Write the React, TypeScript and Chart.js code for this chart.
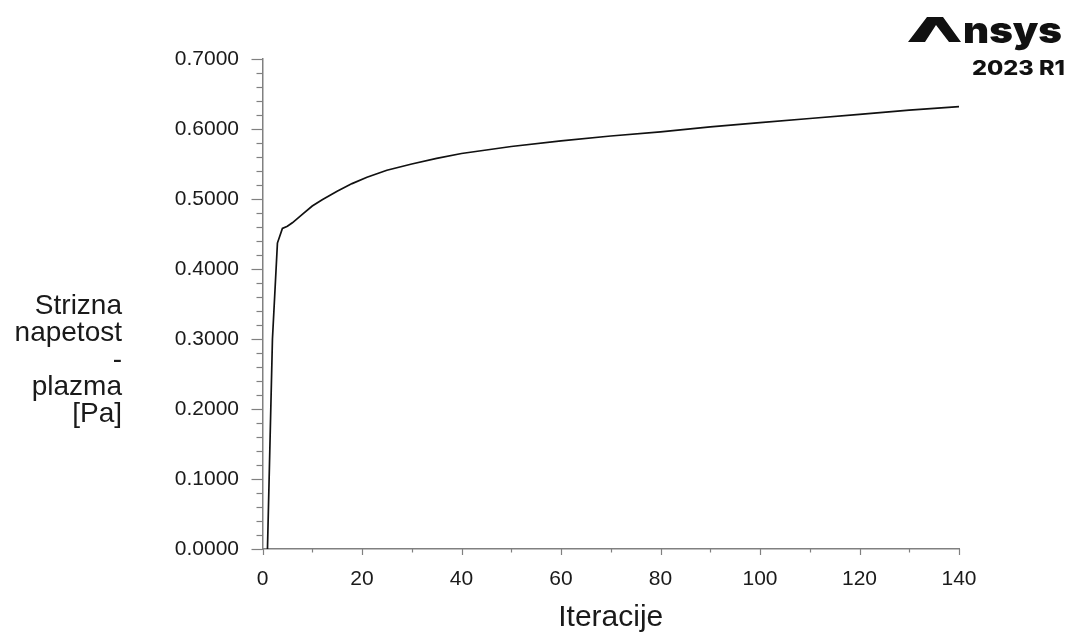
import React, { useEffect, useRef } from "react";
import { Chart, registerables } from "chart.js";

Chart.register(...registerables);

const iterations = [1, 2, 3, 4, 5, 6, 8, 10, 12, 15, 18, 21, 25, 30, 35, 40, 45, 50, 60, 70, 80, 90, 100, 110, 120, 130, 140];
const shearStress = [0.0, 0.3, 0.437, 0.458, 0.461, 0.466, 0.478, 0.49, 0.499, 0.511, 0.522, 0.531, 0.541, 0.55, 0.558, 0.565, 0.57, 0.575, 0.583, 0.59, 0.596, 0.603, 0.609, 0.615, 0.621, 0.627, 0.632];
const xTitle = "Iteracije";
const yTitleLines = ["Strizna", "napetost", "-", "plazma", "[Pa]"];
const logoWord = "nsys";
const logoVersion = "2023 R1";

const AXIS_COLOR = "#808080";
const TEXT_COLOR = "#1a1a1a";

const decorPlugin = {
  id: "decor",
  afterDraw(chart: any) {
    const ctx = chart.ctx as CanvasRenderingContext2D;
    const xs = chart.scales.x;
    const ys = chart.scales.y;
    const area = chart.chartArea;
    ctx.save();
    ctx.strokeStyle = AXIS_COLOR;
    ctx.lineWidth = 1.2;
    for (let i = 0; i <= 35; i++) {
      const v = i * 0.02;
      const py = Math.round(ys.getPixelForValue(v)) + 0.5;
      const len = i % 5 === 0 ? 11 : 6;
      ctx.beginPath();
      ctx.moveTo(area.left - len, py);
      ctx.lineTo(area.left, py);
      ctx.stroke();
    }
    for (let i = 0; i <= 14; i++) {
      const v = i * 10;
      const px = Math.round(xs.getPixelForValue(v)) + 0.5;
      const len = i % 2 === 0 ? 6 : 3.5;
      ctx.beginPath();
      ctx.moveTo(px, area.bottom);
      ctx.lineTo(px, area.bottom + len);
      ctx.stroke();
    }
    ctx.fillStyle = TEXT_COLOR;
    ctx.font = "30px 'Liberation Sans', Arial, sans-serif";
    ctx.textAlign = "center";
    ctx.textBaseline = "alphabetic";
    ctx.fillText(xTitle, (area.left + area.right) / 2, 626);
    ctx.font = "28px 'Liberation Sans', Arial, sans-serif";
    ctx.textAlign = "right";
    yTitleLines.forEach((line, i) => {
      ctx.fillText(line, 122, 314 + i * 27);
    });
    ctx.fillStyle = "#111";
    ctx.beginPath();
    ctx.moveTo(908, 42);
    ctx.lineTo(927, 17);
    ctx.lineTo(943, 17);
    ctx.lineTo(961, 42);
    ctx.lineTo(949, 42);
    ctx.lineTo(936, 25);
    ctx.lineTo(925, 42);
    ctx.closePath();
    ctx.fill();
    ctx.font = "900 34px Inter, 'DejaVu Sans', sans-serif";
    ctx.textAlign = "left";
    const w = ctx.measureText(logoWord).width;
    ctx.save();
    ctx.translate(963, 43);
    ctx.scale(99 / w, 1.05);
    ctx.fillText(logoWord, 0, 0);
    ctx.restore();
    ctx.font = "800 20px Inter, 'DejaVu Sans', sans-serif";
    const w2 = ctx.measureText(logoVersion).width;
    ctx.save();
    ctx.translate(972, 75);
    ctx.scale(93 / w2, 1);
    ctx.fillText(logoVersion, 0, 0);
    ctx.restore();
    ctx.restore();
  },
};

export default function App() {
  const canvasRef = useRef<HTMLCanvasElement | null>(null);

  useEffect(() => {
    if (!canvasRef.current) return;
    const chart = new Chart(canvasRef.current, {
      type: "line",
      data: {
        datasets: [
          {
            data: iterations.map((x, i) => ({ x, y: shearStress[i] })),
            borderColor: "#111111",
            borderWidth: 1.7,
            pointRadius: 0,
            fill: false,
            tension: 0,
          },
        ],
      },
      options: {
        animation: false,
        responsive: true,
        maintainAspectRatio: false,
        layout: { padding: { top: 59, right: 109, left: 0, bottom: 0 } },
        plugins: { legend: { display: false }, tooltip: { enabled: false } },
        scales: {
          x: {
            type: "linear",
            min: 0,
            max: 140,
            afterFit: (scale: any) => {
              scale.height = 85;
            },
            ticks: {
              stepSize: 20,
              padding: 18,
              color: TEXT_COLOR,
              font: { family: "'Liberation Sans', Arial, sans-serif", size: 21 },
              maxRotation: 0,
            },
            grid: { display: true, drawOnChartArea: false, drawTicks: false, color: "rgba(0,0,0,0)" },
            border: { display: true, color: AXIS_COLOR, width: 1.5 },
          },
          y: {
            type: "linear",
            min: 0,
            max: 0.7,
            afterFit: (scale: any) => {
              scale.width = 262.5;
            },
            ticks: {
              stepSize: 0.1,
              padding: 23.5,
              color: TEXT_COLOR,
              font: { family: "'Liberation Sans', Arial, sans-serif", size: 21 },
              callback: (v: any) => Number(v).toFixed(4),
            },
            grid: { display: true, drawOnChartArea: false, drawTicks: false, color: "rgba(0,0,0,0)" },
            border: { display: true, color: AXIS_COLOR, width: 1.5 },
          },
        },
      },
      plugins: [decorPlugin],
    });
    return () => chart.destroy();
  }, []);

  return (
    <div style={{ position: "fixed", left: 0, top: 0, width: 1068, height: 634, background: "#fff" }}>
      <canvas ref={canvasRef} />
    </div>
  );
}
